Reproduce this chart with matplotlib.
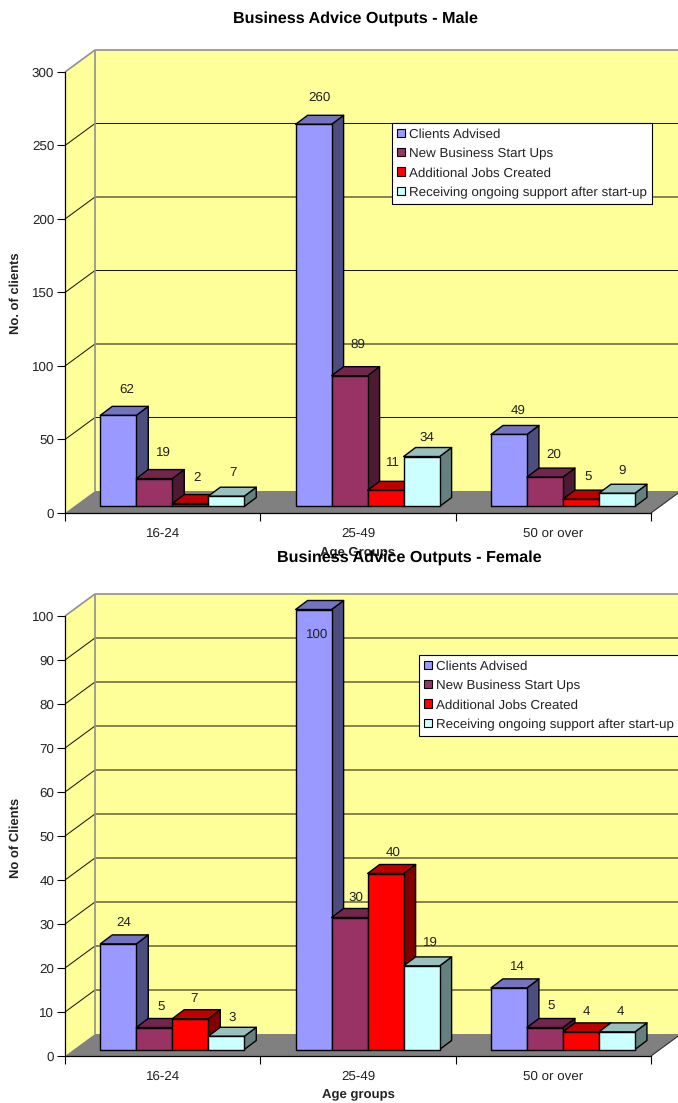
import matplotlib
matplotlib.use("Agg")
import matplotlib.pyplot as plt
from matplotlib.patches import Polygon, Patch
from matplotlib.transforms import Affine2D, IdentityTransform

plt.rcParams['font.family'] = ['Liberation Sans', 'DejaVu Sans']
plt.rcParams['text.hinting'] = 'none'
plt.rcParams['text.hinting_factor'] = 8

W, H = 678, 1103

age_groups = ['16-24', '25-49', '50 or over']
series_names = ['Clients Advised', 'New Business Start Ups',
                'Additional Jobs Created', 'Receiving ongoing support after start-up']
male_clients = [62, 260, 49]
male_startups = [19, 89, 20]
male_jobs = [2, 11, 5]
male_support = [7, 34, 9]
female_clients = [24, 100, 14]
female_startups = [5, 30, 5]
female_jobs = [7, 40, 4]
female_support = [3, 19, 4]

face_colors = ['#9999FF', '#993366', '#FF0000', '#CCFFFF']
top_colors = ['#7373BF', '#73264D', '#BF0000', '#99BFBF']
side_colors = ['#4D4D80', '#4D1A33', '#800000', '#668080']

WALL = '#FFFF99'
FLOOR = '#808080'
DEPTH = (30, 22)         # pixel shift from the front plane to the back wall
BAR_SHIFT = (9.6, 6.5)   # pixel shift from the front plane to the bar faces
BAR_DEPTH = (12, 9)      # pixel depth of each bar
BAR_W = 36 / 195.33      # bar width in category units
TEXT_SIZE = 9.6
TEXT_COLOR = '#222222'

# per-label pixel adjustments of the value labels, keyed by (group, series)
MALE_NUDGES = {(0, 0): (0, -2), (0, 1): (0, -1), (0, 2): (-2, -2), (0, 3): (-2, -4),
               (1, 0): (-3, -1), (1, 1): (-1, 4), (1, 2): (-2, 0), (1, 3): (-4, -8),
               (2, 0): (0, -4), (2, 1): (0, -4.5), (2, 2): (-2, -5.5), (2, 3): (-4, -5)}
FEMALE_NUDGES = {(0, 0): (-3, 0), (0, 1): (-2, -2), (0, 2): (-5, -1), (0, 3): (-3, -2.5),
                 (1, 0): (-5, -47), (1, 1): (-3, -2), (1, 2): (-1, -1), (1, 3): (0, 2),
                 (2, 0): (0, 0), (2, 1): (-3, -1), (2, 2): (-3, -1), (2, 3): (-5, -1)}


def draw_chart(fig, y_zero_px, y_top_px, ymax, step, series, title, title_xy,
               ylabel, ylabel_y, xlabel, legend_xy, label_rise, nudges):
    ax = fig.add_axes([65 / W, 1 - y_zero_px / H, 586 / W, (y_zero_px - y_top_px) / H])
    ax.patch.set_visible(False)
    ax.set_xlim(0, 3)
    ax.set_ylim(0, ymax)
    for s in ('top', 'right'):
        ax.spines[s].set_visible(False)
    for s in ('left', 'bottom'):
        ax.spines[s].set_linewidth(0.9)
        ax.spines[s].set_zorder(30)

    base = ax.transData
    back = ax.transData + Affine2D().translate(*DEPTH)

    # side wall, back wall and floor; corners are mapped by hand so the two
    # planes can share the front-plane data scale
    def add_mixed(points, **kw):
        px = [(back if on_back else base).transform((x, y)) for x, y, on_back in points]
        ax.add_patch(Polygon(px, closed=True, transform=IdentityTransform(),
                             clip_on=False, **kw))

    def add_path(points, color, lw):
        ax.plot(*zip(*points), color=color, lw=lw, transform=IdentityTransform(),
                clip_on=False, zorder=3, solid_capstyle='butt')

    add_mixed([(0, 0, False), (0, 0, True), (0, ymax, True), (0, ymax, False)],
              facecolor=WALL, edgecolor='none', zorder=1)
    add_mixed([(0, 0, True), (3, 0, True), (3, ymax, True), (0, ymax, True)],
              facecolor=WALL, edgecolor='none', zorder=1)
    add_mixed([(0, 0, False), (3, 0, False), (3, 0, True), (0, 0, True)],
              facecolor=FLOOR, edgecolor='none', zorder=2)

    # gridlines run along the side wall and then across the back wall
    levels = list(range(0, ymax + step, step))
    for v in levels[1:-1]:
        add_path([base.transform((0, v)), back.transform((0, v)), back.transform((3, v))],
                 '#1A1A08', 0.75)
    add_path([base.transform((0, ymax)), back.transform((0, ymax)), back.transform((3, ymax))],
             '#909090', 1.2)
    add_path([back.transform((0, 0)), back.transform((0, ymax))], '#909090', 1.2)
    add_path([base.transform((3, 0)), back.transform((3, 0))], '#303030', 0.8)

    # bars, left to right so each one covers its neighbour's side face
    group_start = (1 - 4 * BAR_W) / 2
    z = 5
    for g in range(len(age_groups)):
        for k, values in enumerate(series):
            v = values[g]
            x0 = g + group_start + k * BAR_W
            x1 = x0 + BAR_W
            a = base.transform((x0, 0)) + BAR_SHIFT
            b = base.transform((x1, 0)) + BAR_SHIFT
            c = base.transform((x1, v)) + BAR_SHIFT
            d = base.transform((x0, v)) + BAR_SHIFT
            dz = BAR_DEPTH
            style = dict(edgecolor='black', linewidth=1.0, transform=IdentityTransform(),
                         clip_on=False, joinstyle='round')
            ax.add_patch(Polygon([b, b + dz, c + dz, c], facecolor=side_colors[k], zorder=z, **style))
            ax.add_patch(Polygon([d, c, c + dz, d + dz], facecolor=top_colors[k], zorder=z, **style))
            ax.add_patch(Polygon([a, b, c, d], facecolor=face_colors[k], zorder=z, **style))
            z += 1
            nx, ny = nudges.get((g, k), (0, 0))
            ax.annotate(str(v), xy=((x0 + x1) / 2, v), xycoords='data',
                        xytext=(9.5 + 9 + nx, 6 + label_rise + ny),
                        textcoords='offset pixels', ha='center', va='center',
                        fontsize=TEXT_SIZE, color=TEXT_COLOR, zorder=40, annotation_clip=False)

    ax.set_yticks(levels)
    ax.tick_params(axis='y', length=8 * 0.72, width=0.8, labelsize=TEXT_SIZE, pad=2,
                   labelcolor=TEXT_COLOR)
    ax.set_xticks([0, 1, 2, 3], labels=[])
    ax.tick_params(axis='x', which='major', length=8 * 0.72, width=0.8)
    ax.set_xticks([0.5, 1.5, 2.5], labels=age_groups, minor=True)
    ax.tick_params(axis='x', which='minor', length=0, labelsize=TEXT_SIZE, pad=10.5,
                   labelcolor=TEXT_COLOR)

    fig.text(title_xy[0] / W, 1 - title_xy[1] / H, title, ha='center', va='center',
             fontsize=11.6, fontweight='bold', zorder=50)
    fig.text(15.5 / W, 1 - ylabel_y / H, ylabel, rotation=90, ha='center', va='center',
             fontsize=9.35, fontweight='bold', color=TEXT_COLOR)
    fig.text(358 / W, 1 - (y_zero_px + 38.5) / H, xlabel, ha='center', va='center',
             fontsize=9.45, fontweight='bold', zorder=49, color=TEXT_COLOR)

    handles = [Patch(facecolor=c, edgecolor='black', linewidth=0.8) for c in face_colors]
    leg = ax.legend(handles, series_names, loc='upper left',
                    bbox_to_anchor=(legend_xy[0], H - legend_xy[1]),
                    bbox_transform=IdentityTransform(), fontsize=9.6, frameon=True,
                    fancybox=False, framealpha=1, edgecolor='black', borderaxespad=0,
                    handlelength=0.6, handleheight=0.6, handletextpad=0.26,
                    labelspacing=0.55, borderpad=0.38, labelcolor=TEXT_COLOR)
    leg.get_frame().set_linewidth(0.8)
    leg.set_zorder(45)
    return ax


fig = plt.figure(figsize=(W / 100, H / 100), dpi=100)
fig.patch.set_facecolor('white')

draw_chart(fig, 513, 72, 300, 50,
           [male_clients, male_startups, male_jobs, male_support],
           'Business Advice Outputs - Male', (355, 19),
           'No. of clients', 293, 'Age Groups', (392, 123), 28, MALE_NUDGES)
draw_chart(fig, 1056, 616, 100, 10,
           [female_clients, female_startups, female_jobs, female_support],
           'Business Advice Outputs - Female', (409, 558),
           'No of Clients', 838, 'Age groups', (419, 655), 22, FEMALE_NUDGES)

fig.savefig('out.png', dpi=100)
